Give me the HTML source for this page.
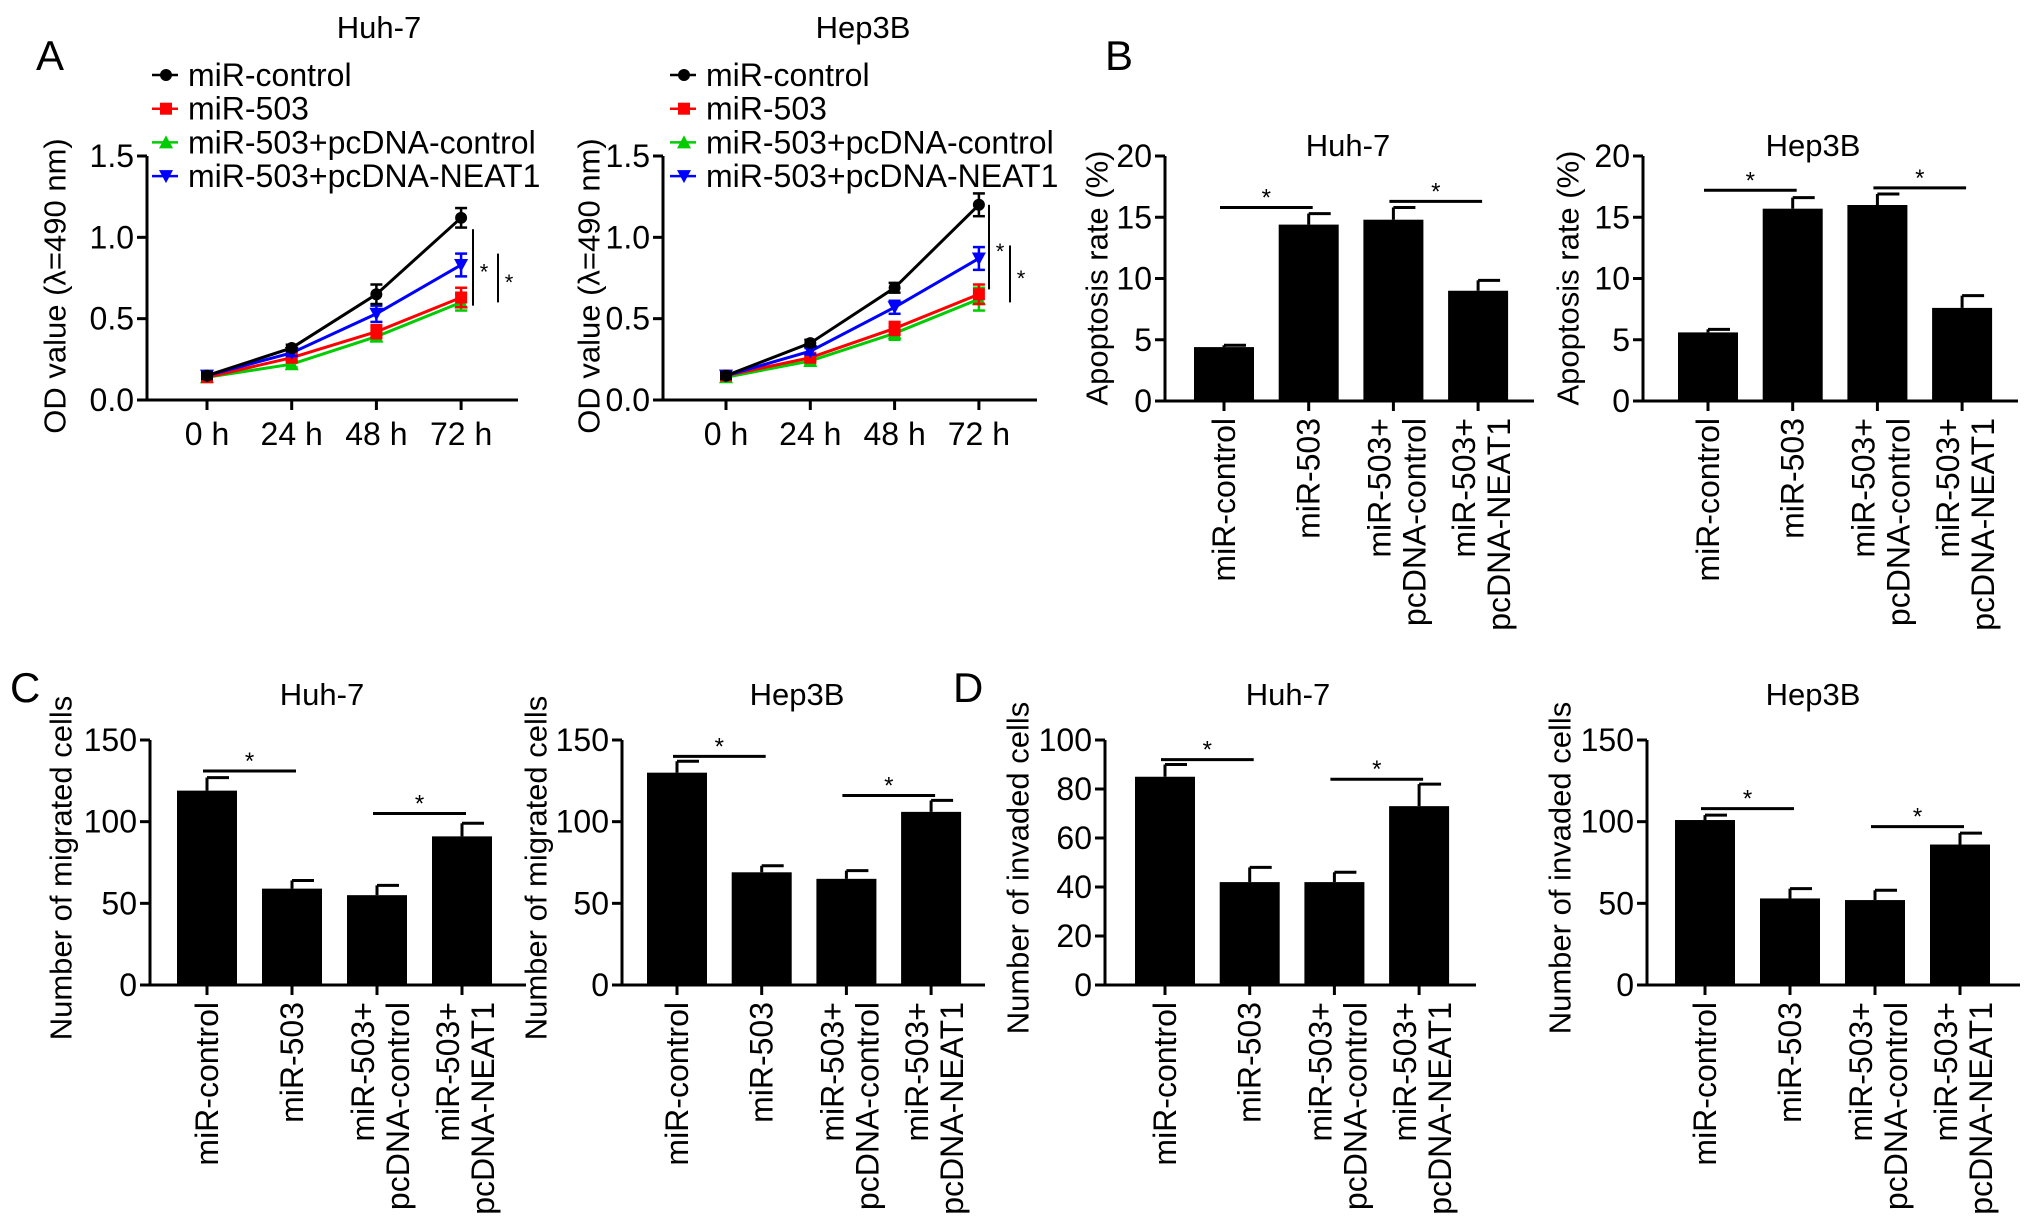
<!DOCTYPE html>
<html><head><meta charset="utf-8"><style>
body{margin:0;background:#fff;}
svg{display:block;}
text{font-family:"Liberation Sans",Arial,sans-serif;fill:#000;}
</style></head><body>
<svg id="fig" width="2032" height="1225" viewBox="0 0 2032 1225" xmlns="http://www.w3.org/2000/svg"></svg>
<script>
// ---- Data ----
const timeLabels = ["0 h","24 h","48 h","72 h"];
const odTicks = [0, 0.5, 1.0, 1.5];
const odTickLabels = ["0.0","0.5","1.0","1.5"];
const seriesNames = ["miR-control","miR-503","miR-503+pcDNA-control","miR-503+pcDNA-NEAT1"];
const seriesColors = ["#000000","#ff0000","#00cc00","#0000ff"];
const huhOD_control = [0.15, 0.32, 0.65, 1.12];
const huhOD_503 = [0.14, 0.26, 0.42, 0.63];
const huhOD_pcCtrl = [0.14, 0.22, 0.39, 0.60];
const huhOD_neat = [0.15, 0.29, 0.53, 0.83];
const huhOD_err = [[0.02,0.02,0.06,0.06],[0.02,0.02,0.04,0.06],[0.02,0.02,0.03,0.05],[0.02,0.02,0.05,0.07]];
const hepOD_control = [0.15, 0.35, 0.69, 1.20];
const hepOD_503 = [0.15, 0.26, 0.44, 0.65];
const hepOD_pcCtrl = [0.14, 0.24, 0.41, 0.62];
const hepOD_neat = [0.15, 0.30, 0.57, 0.87];
const hepOD_err = [[0.02,0.02,0.03,0.07],[0.02,0.02,0.04,0.06],[0.02,0.02,0.04,0.07],[0.02,0.02,0.04,0.07]];

const groupLabels = [["miR-control"],["miR-503"],["miR-503+","pcDNA-control"],["miR-503+","pcDNA-NEAT1"]];
const apopHuh = [4.4, 14.4, 14.8, 9.0];
const apopHuhErr = [0.15, 0.9, 1.0, 0.85];
const apopHep = [5.6, 15.7, 16.0, 7.6];
const apopHepErr = [0.25, 0.9, 0.9, 1.0];
const apopTicks = [0,5,10,15,20];
const migHuh = [119, 59, 55, 91];
const migHuhErr = [8, 5, 6, 8];
const migHep = [130, 69, 65, 106];
const migHepErr = [7, 4, 5, 7];
const migTicks = [0,50,100,150];
const invHuh = [85, 42, 42, 73];
const invHuhErr = [5, 6, 4, 9];
const invHuhTicks = [0,20,40,60,80,100];
const invHep = [101, 53, 52, 86];
const invHepErr = [3, 6, 6, 7];
const invHepTicks = [0,50,100,150];

// ---- helpers ----
const NS="http://www.w3.org/2000/svg";
const svg=document.getElementById('fig');
function el(tag,attrs,parent,txt){const e=document.createElementNS(NS,tag);for(const k in attrs)e.setAttribute(k,attrs[k]);if(txt!==undefined)e.textContent=txt;(parent||svg).appendChild(e);return e;}
function line(x1,y1,x2,y2,p,w){return el('line',{x1,y1,x2,y2,stroke:'#000','stroke-width':w||3},p);}

function panelLetter(t,x,y){
  const e=el('text',{x,y,'font-size':42},svg,t);
  
  
}
panelLetter('A',36,70);panelLetter('B',1105,70);panelLetter('C',10,702);panelLetter('D',953,702);

function axesCommon(g,c,ticks,tickLabels){
  const ys=v=>c.y0-(v-ticks[0])/(ticks[ticks.length-1]-ticks[0])*(c.y0-c.yTop);
  line(c.ax,c.yTop,c.ax,c.y0,g);
  line(c.ax,c.y0,c.axEnd,c.y0,g);
  ticks.forEach((t,i)=>{
    line(c.ax-10,ys(t),c.ax,ys(t),g);
    const tl=el('text',{x:c.ax-13,y:ys(t)+11,'font-size':32,'text-anchor':'end'},g,tickLabels?tickLabels[i]:String(t));
    
    
  });
  const tt=el('text',{x:c.titleX,y:c.titleY,'font-size':31,'text-anchor':'middle'},g,c.title);
  
  
  const yt=el('text',{x:0,y:0,'font-size':31,'text-anchor':'middle','dominant-baseline':'central',transform:`translate(${c.yTitleX},${c.yTitleY}) rotate(-90)`},g,c.yTitle);
  
  
  return ys;
}

function barChart(c,vals,errs,ticks,sigs){
  const g=el('g',{});
  
  
  const ys=axesCommon(g,c,ticks);
  const xs=i=>c.x0+i*c.step;
  vals.forEach((v,i)=>{
    const x=xs(i),w=60;
    const b=el('rect',{x:x-w/2,y:ys(v),width:w,height:c.y0-ys(v),fill:'#000'},g);
    
    
    const top=ys(v+errs[i]);
    line(x,ys(v),x,top,g,3);
    line(x,top,x+22,top,g,3);
    line(x,c.y0,x,c.y0+10,g);
    const lbl=groupLabels[i];
    lbl.forEach((s,j)=>{
      const off=lbl.length===1?0:(j===0?-14:21);
      const t=el('text',{x:0,y:0,'font-size':32,'text-anchor':'end','dominant-baseline':'central',transform:`translate(${x+off},${c.y0+17}) rotate(-90)`},g,s);
      
      
    });
  });
  sigs.forEach(s=>{
    const y=ys(s[2]);
    const ln=line(xs(s[0])-4,y,xs(s[1])+4,y,g,3);
    
    
    const st=el('text',{x:(xs(s[0])+xs(s[1]))/2,y:y-2,'font-size':24,'text-anchor':'middle'},g,'*');
    
    
  });
}

function marker(g,type,x,y,color){
  const r=6;
  if(type===0)return el('circle',{cx:x,cy:y,r:r,fill:color},g);
  if(type===1)return el('rect',{x:x-r,y:y-r,width:2*r,height:2*r,fill:color},g);
  if(type===2)return el('polygon',{points:`${x},${y-r-1} ${x-r-1},${y+r} ${x+r+1},${y+r}`,fill:color},g);
  return el('polygon',{points:`${x},${y+r+1} ${x-r-1},${y-r} ${x+r+1},${y-r}`,fill:color},g);
}

function lineChart(c,series,errs,sigs){
  const g=el('g',{});
  
  
  const ys=axesCommon(g,c,odTicks,odTickLabels);
  const xs=i=>c.x0+i*c.step;
  timeLabels.forEach((t,i)=>{
    line(xs(i),c.y0,xs(i),c.y0+10,g);
    const tl=el('text',{x:xs(i),y:c.y0+45,'font-size':32,'text-anchor':'middle'},g,t);
    
    
  });
  [2,1,3,0].forEach(si=>{
    const vals=series[si],col=seriesColors[si];
    const pts=vals.map((v,i)=>xs(i)+','+ys(v)).join(' ');
    const pl=el('polyline',{points:pts,fill:'none',stroke:col,'stroke-width':3},g);
    
    
    vals.forEach((v,i)=>{
      const e=errs[si][i];
      line(xs(i),ys(v+e),xs(i),ys(v-e),g,2.5).setAttribute('stroke',col);
      line(xs(i)-6,ys(v+e),xs(i)+6,ys(v+e),g,2.5).setAttribute('stroke',col);
      line(xs(i)-6,ys(v-e),xs(i)+6,ys(v-e),g,2.5).setAttribute('stroke',col);
      const m=marker(g,si,xs(i),ys(v),col);
      
      
    });
  });
  seriesNames.forEach((n,i)=>{
    const y=c.legY+i*33.7;
    line(c.legX-14,y,c.legX+12,y,g,2.5).setAttribute('stroke',seriesColors[i]);
    marker(g,i,c.legX,y,seriesColors[i]);
    const t=el('text',{x:c.legX+22,y:y+11,'font-size':32},g,n);
    
    
  });
  sigs.forEach(s=>{
    const ln=line(s[0],ys(s[1]),s[0],ys(s[2]),g,2);
    
    
    const st=el('text',{x:s[0]+11,y:(ys(s[1])+ys(s[2]))/2+12,'font-size':22,'text-anchor':'middle'},g,'*');
    
    
  });
}

lineChart({name:'chart-a-huh7',ax:147,axEnd:518,yTop:156,y0:400,x0:207,step:84.7,title:'Huh-7',titleX:379,titleY:38,yTitle:'OD value (λ=490 nm)',yTitleX:55,yTitleY:286,legX:166,legY:75},
  [huhOD_control,huhOD_503,huhOD_pcCtrl,huhOD_neat],huhOD_err,[[473,1.05,0.58],[498,0.9,0.6]]);
lineChart({name:'chart-a-hep3b',ax:663,axEnd:1037,yTop:156,y0:400,x0:726,step:84.3,title:'Hep3B',titleX:863,titleY:38,yTitle:'OD value (λ=490 nm)',yTitleX:589,yTitleY:286,legX:684,legY:75},
  [hepOD_control,hepOD_503,hepOD_pcCtrl,hepOD_neat],hepOD_err,[[989,1.2,0.68],[1010,0.95,0.6]]);

barChart({name:'chart-b-huh7',ax:1165,axEnd:1534,yTop:156,y0:401,x0:1224,step:84.7,title:'Huh-7',titleX:1348,titleY:156,yTitle:'Apoptosis rate (%)',yTitleX:1097,yTitleY:278},apopHuh,apopHuhErr,apopTicks,[[0,1,15.8],[2,3,16.3]]);
barChart({name:'chart-b-hep3b',ax:1643,axEnd:2018,yTop:156,y0:401,x0:1708,step:84.7,title:'Hep3B',titleX:1813,titleY:156,yTitle:'Apoptosis rate (%)',yTitleX:1568,yTitleY:278},apopHep,apopHepErr,apopTicks,[[0,1,17.2],[2,3,17.4]]);

barChart({name:'chart-c-huh7',ax:150,axEnd:526,yTop:740,y0:985,x0:207,step:85,title:'Huh-7',titleX:322,titleY:705,yTitle:'Number of migrated cells',yTitleX:61,yTitleY:868},migHuh,migHuhErr,migTicks,[[0,1,131],[2,3,105]]);
barChart({name:'chart-c-hep3b',ax:622,axEnd:985,yTop:740,y0:985,x0:677,step:84.7,title:'Hep3B',titleX:797,titleY:705,yTitle:'Number of migrated cells',yTitleX:536,yTitleY:868},migHep,migHepErr,migTicks,[[0,1,140],[2,3,116]]);

barChart({name:'chart-d-huh7',ax:1105,axEnd:1476,yTop:740,y0:985,x0:1165,step:84.7,title:'Huh-7',titleX:1288,titleY:705,yTitle:'Number of invaded cells',yTitleX:1018,yTitleY:868},invHuh,invHuhErr,invHuhTicks,[[0,1,92],[2,3,84]]);
barChart({name:'chart-d-hep3b',ax:1647,axEnd:2020,yTop:740,y0:985,x0:1705,step:85,title:'Hep3B',titleX:1813,titleY:705,yTitle:'Number of invaded cells',yTitleX:1560,yTitleY:868},invHep,invHepErr,invHepTicks,[[0,1,108],[2,3,97]]);
</script>
</body></html>
